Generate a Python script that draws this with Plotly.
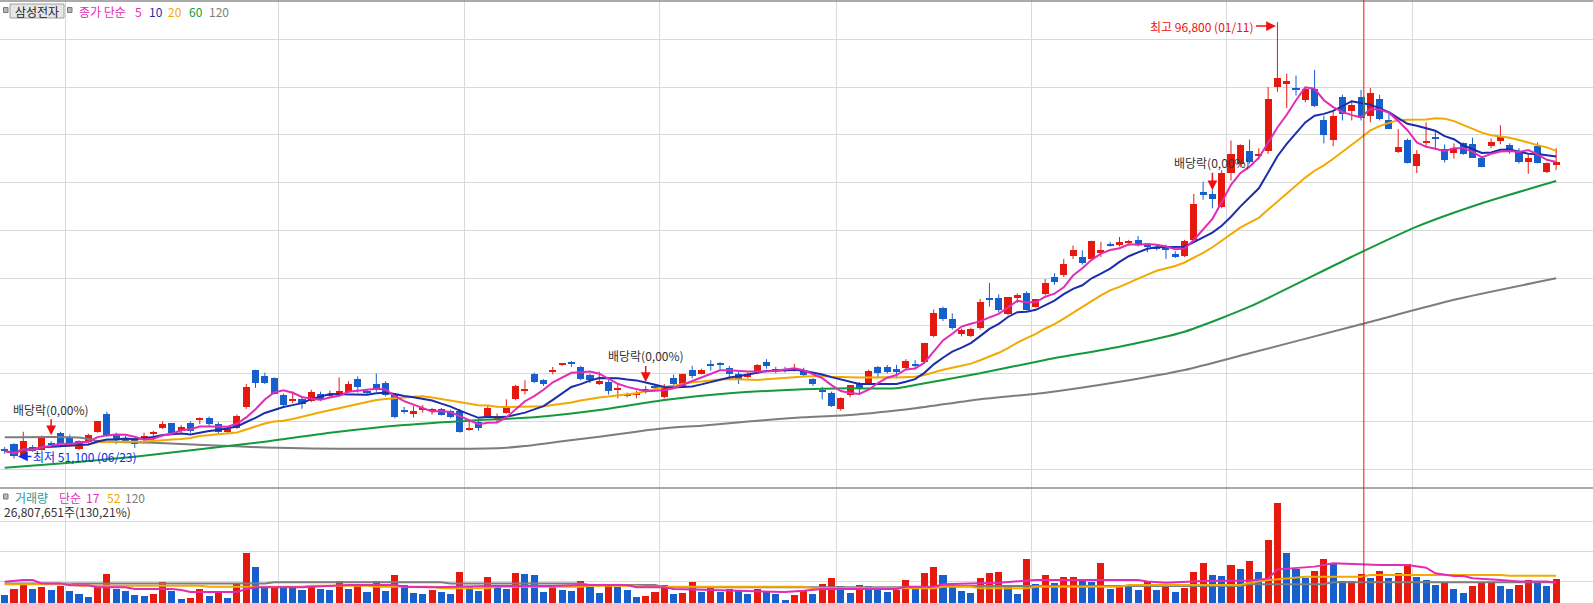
import plotly.graph_objects as go
import pandas as pd

W, H = 1593, 603

# ---------------- data ----------------
month_days = {
    "2020-06": [22, 23, 24, 25, 26, 29, 30],
    "2020-07": [1, 2, 3, 6, 7, 8, 9, 10, 13, 14, 15, 16, 17, 20, 21, 22, 23, 24, 27, 28, 29, 30, 31],
    "2020-08": [3, 4, 5, 6, 7, 10, 11, 12, 13, 14, 18, 19, 20, 21, 24, 25, 26, 27, 28, 31],
    "2020-09": [1, 2, 3, 4, 7, 8, 9, 10, 11, 14, 15, 16, 17, 18, 21, 22, 23, 24, 25, 28, 29],
    "2020-10": [5, 6, 7, 8, 12, 13, 14, 15, 16, 19, 20, 21, 22, 23, 26, 27, 28, 29, 30],
    "2020-11": [2, 3, 4, 5, 6, 9, 10, 11, 12, 13, 16, 17, 18, 19, 20, 23, 24, 25, 26, 27, 30],
    "2020-12": [1, 2, 3, 4, 7, 8, 9, 10, 11, 14, 15, 16, 17, 18, 21, 22, 23, 24, 28, 29, 30],
    "2021-01": [4, 5, 6, 7, 8, 11, 12, 13, 14, 15, 18, 19, 20, 21, 22, 25, 26, 27, 28, 29],
    "2021-02": [1, 2, 3, 4, 5, 8, 9, 10, 15, 16, 17, 18, 19, 22, 23, 24],
}
dates = [f"{m}-{d:02d}" for m, days in month_days.items() for d in days]

opens = [52000, 52600, 51300, 52300, 52000, 52700, 53800, 53400, 52100, 52800,
         53900, 55800, 53600, 53200, 53100, 53200, 53700, 54300, 54800, 54000,
         54800, 55200, 55300, 54700, 53900, 54300, 56500, 60400, 59700, 59500,
         57800, 57200, 57300, 57100, 57900, 57600, 57900, 58100, 59400, 58200,
         58900, 59000, 57700, 56200, 55800, 56200, 56100, 56300, 56100, 56100,
         54100, 54900, 55500, 55100, 55900, 57300, 58200, 60000, 59300, 60200,
         60900, 61100, 60700, 59800, 59000, 59100, 58300, 57700, 57800, 58300,
         58600, 57500, 59500, 58600, 60400, 60000, 60900, 61000, 60600, 60000,
         59600, 60200, 61200, 60400, 60400, 60400, 60400, 59400, 58300, 58000,
         56300, 57700, 59000, 58900, 60700, 60700, 60500, 60600, 60900, 61200,
         63900, 66900, 65700, 64100, 63900, 64800, 67900, 67900, 66200, 68000,
         68400, 67000, 68300, 70100, 70300, 72300, 72200, 72000, 72600, 73500,
         73500, 73700, 74000, 73400, 73300, 73300, 72500, 72300, 74000, 79000,
         78800, 77400, 81000, 81900, 83300, 82800, 83300, 90000, 90300, 89800,
         88600, 89800, 86600, 84500, 89000, 87500, 89000, 87000, 88800, 86600,
         83200, 84500, 81700, 84100, 84800, 83500, 83100, 84100, 84000, 82600,
         83800, 84400, 83900, 83300, 82200, 83800, 81100, 81800]
highs = [52300, 52700, 53900, 52500, 53500, 52900, 53900, 53600, 53000, 53700,
         55000, 56000, 53800, 53500, 53300, 53800, 54000, 55000, 54800, 54600,
         55000, 55400, 55500, 54900, 54500, 55700, 58900, 60400, 60100, 59600,
         57900, 58100, 57500, 58300, 58100, 58200, 59600, 59200, 59700, 58400,
         60000, 59200, 57900, 56500, 56600, 56700, 56400, 56400, 56200, 56300,
         55100, 55100, 56700, 55800, 57300, 58800, 59300, 60100, 59400, 60700,
         61000, 61300, 60800, 60000, 60200, 59300, 59000, 58000, 58200, 58700,
         58900, 58900, 59900, 60000, 60800, 60500, 61400, 61200, 60800, 60200,
         60100, 61000, 61500, 60700, 60700, 61000, 60600, 59500, 58600, 58100,
         57500, 58800, 59100, 60400, 60800, 60900, 60900, 61500, 61400, 63200,
         66700, 67000, 66300, 64700, 64800, 67800, 69500, 68300, 68000, 68400,
         68600, 67800, 69900, 70500, 72000, 73400, 72900, 73900, 73800, 73800,
         74300, 74000, 74400, 73600, 73500, 73500, 72800, 74000, 78800, 80100,
         79200, 81300, 84400, 84000, 84500, 83600, 90000, 96800, 91400, 91200,
         90000, 91800, 87000, 87400, 89200, 88600, 89700, 89900, 89200, 87300,
         85600, 84600, 83400, 86300, 85400, 84000, 84100, 84200, 84700, 82700,
         84600, 86000, 84100, 83600, 82900, 84200, 82100, 83600]
lows = [51600, 51100, 51200, 51800, 51900, 52300, 52400, 52300, 52000, 52700,
        53800, 53400, 52600, 52700, 52200, 52900, 52900, 54200, 53700, 53800,
        53800, 54700, 54500, 53700, 53700, 54200, 56300, 58500, 58900, 57800,
        56600, 56900, 56300, 57000, 57100, 57500, 57800, 58000, 58000, 57800,
        58100, 57600, 55300, 55800, 55400, 55900, 55700, 55600, 55300, 53800,
        54000, 54000, 55400, 54900, 55800, 57200, 57800, 59000, 58700, 59900,
        60800, 60700, 59300, 59000, 58800, 57800, 57400, 57500, 57400, 57900,
        58300, 57400, 58800, 58500, 59500, 59900, 60300, 60400, 59600, 58900,
        59500, 60000, 60500, 60000, 60100, 60200, 59600, 58700, 57300, 56500,
        56100, 57500, 57900, 58800, 59500, 60000, 59500, 60400, 60400, 61100,
        63800, 65500, 64600, 63900, 63800, 64600, 67000, 66400, 66100, 67400,
        66600, 66900, 68200, 69300, 70100, 72000, 71400, 71900, 72200, 73300,
        73300, 73400, 73300, 72700, 72900, 72000, 72100, 72200, 73900, 78200,
        77300, 77300, 80200, 81600, 82000, 82400, 83000, 89500, 87800, 89100,
        88400, 87900, 84100, 83800, 86500, 86500, 86500, 86300, 86500, 85600,
        83100, 82000, 81000, 83700, 83400, 82100, 82500, 82900, 82600, 81600,
        83600, 84000, 83000, 82000, 80900, 82000, 81000, 81300]
closes = [51900, 51400, 52900, 51900, 53300, 52600, 52600, 52600, 52900, 53600,
          55000, 53500, 53000, 52800, 52600, 53500, 53900, 54700, 53800, 54400,
          54000, 55300, 54700, 53900, 54200, 55600, 58600, 59000, 59000, 57900,
          56700, 57300, 56800, 58100, 57300, 57900, 58200, 58900, 58600, 58000,
          58300, 57800, 55400, 56000, 56100, 56400, 56200, 55700, 55400, 53900,
          54200, 54300, 56400, 55600, 56500, 58700, 58300, 59100, 58900, 60400,
          61000, 61000, 59400, 59300, 59200, 58200, 58500, 57800, 58000, 58200,
          58500, 58700, 58900, 59900, 59700, 60400, 60800, 60900, 59900, 59400,
          60000, 60900, 60800, 60300, 60300, 60500, 59800, 58900, 58100, 56600,
          57400, 58800, 58400, 60300, 60100, 60200, 60200, 61300, 60800, 63200,
          66300, 65700, 64800, 64600, 64700, 67500, 67800, 66600, 68000, 68200,
          66700, 67800, 69500, 69600, 71500, 72900, 71600, 73900, 72900, 73400,
          73800, 73700, 73600, 73300, 73000, 72900, 72300, 73900, 77800, 78700,
          78300, 81000, 83000, 83900, 82100, 83000, 88800, 91000, 90600, 89700,
          89800, 88000, 85000, 87000, 87200, 88100, 86800, 89400, 86700, 85600,
          83700, 82000, 83000, 84400, 84600, 82400, 83600, 83000, 82600, 81600,
          84200, 84900, 83200, 82100, 82600, 82000, 82000, 82100]
# volume in millions of shares
volumes_m = [13.2, 18.3, 23.1, 18.3, 20.2, 17.4, 20.8, 16.6, 14.1, 11.5,
             20.2, 30.9, 18.5, 16.8, 13.2, 12.4, 14.1, 24.4, 16.8, 9.8,
             10.9, 18.3, 12.4, 16.0, 10.9, 23.1, 48.8, 37.0, 19.5, 20.5,
             20.0, 19.8, 17.4, 21.6, 18.3, 17.4, 25.0, 18.3, 21.6, 15.7,
             25.0, 16.6, 30.0, 21.6, 14.6, 14.1, 17.4, 16.0, 14.1, 32.8,
             20.2, 16.6, 28.4, 21.6, 18.3, 31.7, 30.9, 30.0, 15.7, 20.2,
             17.4, 16.6, 25.0, 20.2, 14.9, 21.6, 20.2, 17.4, 11.5, 12.4,
             15.7, 21.6, 14.1, 14.9, 24.2, 15.7, 20.2, 15.7, 18.3, 16.6,
             14.1, 18.3, 16.6, 14.1, 9.0, 13.2, 17.3, 14.1, 22.9, 27.2,
             20.9, 14.9, 21.8, 20.9, 17.3, 15.7, 17.3, 26.0, 18.8, 31.7,
             36.8, 30.0, 21.8, 16.6, 14.9, 27.2, 31.7, 32.6, 20.2, 14.1,
             43.5, 22.9, 30.0, 23.5, 28.4, 28.6, 25.0, 24.2, 40.1, 18.3,
             21.8, 20.9, 17.4, 24.2, 17.4, 20.9, 15.7, 19.1, 32.6, 40.1,
             30.0, 29.2, 38.5, 35.1, 41.8, 32.6, 59.5, 90.7, 48.6, 35.1,
             27.2, 33.4, 43.5, 39.3, 25.0, 25.2, 30.9, 27.5, 33.4, 27.2,
             31.7, 39.3, 28.4, 26.0, 21.8, 23.5, 18.3, 14.9, 20.9, 23.5,
             24.2, 20.9, 18.3, 21.8, 26.0, 24.2, 20.6, 26.8]

# long moving averages (index, value)
ma60_idx = [0, 7, 14, 21, 28, 35, 43, 50, 57, 64, 71, 78, 86, 91, 96, 98, 105, 112, 120, 127, 134, 145, 152, 159, 167]
ma60_val = [50140, 50660, 51290, 52060, 52860, 53800, 54610, 55060, 55410, 56180, 57230, 57930, 58350, 58450, 58450,
            58800, 60020, 61420, 62810, 64380, 67000, 72230, 75380, 77830, 80160]
ma120_idx = [0, 8, 10, 16, 22, 28, 33, 53, 56, 60, 64, 68, 71, 75, 78, 82, 86, 91, 98, 105, 112, 120, 127, 134, 146, 156, 167]
ma120_val = [53320, 53300, 52930, 52750, 52500, 52250, 52150, 52170, 52400, 52900, 53380, 53910, 54260, 54535, 54790,
             55130, 55415, 55655, 56360, 57300, 57990, 59140, 60370, 62120, 65155, 67720, 69970]
vma17_idx = [0, 2, 3, 4, 6, 7, 9, 10, 13, 14, 18, 19, 20, 25, 26, 27, 32, 33, 37, 42, 43, 46, 52, 59, 62, 67, 68, 71, 72,
             79, 84, 86, 88, 96, 97, 100, 101, 107, 111, 122, 123, 125, 129, 134, 136, 137, 139, 141, 143, 145, 148,
             151, 153, 154, 156, 157, 158, 161, 163, 166, 167]
vma17_val = [24.4, 25.8, 25.8, 23.0, 23.0, 21.4, 21.4, 19.7, 19.7, 18.3, 18.3, 17.4, 15.7, 15.7, 18.3, 19.7, 19.7, 20.2,
             21.6, 21.6, 20.2, 19.7, 20.8, 20.8, 21.6, 21.6, 19.7, 19.7, 18.3, 16.8, 15.7, 16.8, 18.3, 18.3, 20.2, 20.2,
             22.2, 23.6, 25.8, 25.8, 24.5, 23.6, 25.0, 25.5, 27.0, 34.8, 36.2, 37.1, 39.9, 39.3, 38.5, 38.5, 36.2, 31.5,
             29.2, 29.2, 27.3, 25.8, 24.5, 24.5, 23.6]
vma52_idx = [0, 7, 8, 21, 22, 32, 33, 39, 40, 46, 47, 52, 53, 62, 63, 68, 69, 86, 87, 100, 101, 104, 105, 110, 111, 120,
             121, 133, 134, 136, 138, 140, 146, 147, 161, 162, 167]
vma52_val = [22.2, 22.2, 21.0, 21.0, 20.2, 20.2, 21.0, 21.0, 20.2, 20.2, 18.8, 18.8, 20.2, 20.2, 21.0, 21.0, 20.2, 20.2,
             18.8, 18.8, 20.2, 20.2, 18.8, 18.8, 20.2, 20.2, 21.6, 21.6, 23.6, 25.8, 27.2, 28.6, 28.6, 30.0, 30.0, 29.5,
             29.5]
vma120_idx = [0, 28, 29, 47, 48, 62, 63, 70, 71, 100, 101, 133, 134, 142, 143, 167]
vma120_val = [23.0, 23.0, 24.0, 24.0, 23.0, 23.0, 21.6, 21.6, 19.7, 19.7, 20.8, 20.8, 22.2, 22.2, 23.9, 23.9]

dividend_idx = [5, 69, 130]
high_idx, low_idx, cursor_idx = 137, 1, 146

# ---------------- styles ----------------
RED = "#E6190F"
BLUE = "#165FCD"
C_MA5, C_MA10, C_MA20, C_MA60, C_MA120 = "#E22CB6", "#1B2DAA", "#F2A900", "#15993D", "#7D7D7D"
GRID = "#D9D9D9"
FONT = "Noto Sans CJK KR"

idx = list(range(len(dates)))
ma5 = pd.Series(closes).rolling(5, min_periods=1).mean()
ma10 = pd.Series(closes).rolling(10, min_periods=1).mean()
ma20 = pd.Series(closes).rolling(20, min_periods=1).mean()

up = [c >= o for o, c in zip(opens, closes)]
candle_colors = [RED if u else BLUE for u in up]
body_base = [min(o, c) for o, c in zip(opens, closes)]
body_h = [max(abs(c - o), 110) for o, c in zip(opens, closes)]
vol_colors = [BLUE] + [RED if volumes_m[k] > volumes_m[k - 1] else BLUE for k in range(1, len(volumes_m))]

month_ticks = [k - 0.5 for k in range(1, len(dates)) if dates[k][:7] != dates[k - 1][:7]]


def wick_xy(flag):
    xs, ys = [], []
    for k in idx:
        if up[k] == flag:
            xs += [k, k, None]
            ys += [lows[k], highs[k], None]
    return xs, ys


fig = go.Figure()
for flag, col in [(True, RED), (False, BLUE)]:
    wx, wy = wick_xy(flag)
    fig.add_trace(go.Scatter(x=wx, y=wy, mode="lines", line=dict(color=col, width=1), xaxis="x", yaxis="y",
                             hoverinfo="skip"))
fig.add_trace(go.Bar(x=idx, y=body_h, base=body_base, width=0.76, marker=dict(color=candle_colors, line=dict(width=0)),
                     xaxis="x", yaxis="y"))

smooth = dict(shape="spline", smoothing=0.6)
fig.add_trace(go.Scatter(x=ma120_idx, y=ma120_val, mode="lines", line=dict(color=C_MA120, width=2, **smooth),
                         xaxis="x", yaxis="y"))
fig.add_trace(go.Scatter(x=ma60_idx, y=ma60_val, mode="lines", line=dict(color=C_MA60, width=2, **smooth),
                         xaxis="x", yaxis="y"))
fig.add_trace(go.Scatter(x=idx, y=ma20, mode="lines", line=dict(color=C_MA20, width=2), xaxis="x", yaxis="y"))
fig.add_trace(go.Scatter(x=idx, y=ma10, mode="lines", line=dict(color=C_MA10, width=2), xaxis="x", yaxis="y"))
fig.add_trace(go.Scatter(x=idx, y=ma5, mode="lines", line=dict(color=C_MA5, width=2), xaxis="x", yaxis="y"))

fig.add_trace(go.Bar(x=idx, y=volumes_m, width=0.76, marker=dict(color=vol_colors, line=dict(width=0)),
                     xaxis="x2", yaxis="y2"))
fig.add_trace(go.Scatter(x=vma120_idx, y=vma120_val, mode="lines", line=dict(color=C_MA120, width=2), xaxis="x2", yaxis="y2"))
fig.add_trace(go.Scatter(x=vma52_idx, y=vma52_val, mode="lines", line=dict(color=C_MA20, width=2), xaxis="x2", yaxis="y2"))
fig.add_trace(go.Scatter(x=vma17_idx, y=vma17_val, mode="lines", line=dict(color=C_MA5, width=2), xaxis="x2", yaxis="y2"))

SPLIT = 488
dom = 1 - SPLIT / H
xr = [-4.7 / 9.29, (W - 4.7) / 9.29]

xcommon = dict(range=xr, showticklabels=False, ticks="", tickvals=month_ticks, showgrid=True, gridcolor=GRID,
               gridwidth=1, zeroline=False, showline=False, fixedrange=True)


def px(x):
    return x / W


def py(y):
    return 1 - y / H


fig.update_layout(
    width=W, height=H, margin=dict(l=0, r=0, t=0, b=0), showlegend=False,
    plot_bgcolor="white", paper_bgcolor="white", bargap=0, barmode="overlay",
    font=dict(family=FONT, size=12),
    xaxis=dict(domain=[0, 1], anchor="y", **xcommon),
    xaxis2=dict(domain=[0, 1], anchor="y2", matches="x", **xcommon),
    yaxis=dict(domain=[dom, 1], range=[48010, 99116], dtick=5000, tick0=0, showgrid=True, gridcolor=GRID,
               showticklabels=False, ticks="", zeroline=False, showline=False),
    yaxis2=dict(domain=[0, dom], range=[6.48, 103.3], tickvals=[25, 50, 75], showgrid=True, gridcolor=GRID,
                showticklabels=False, ticks="", zeroline=False, showline=False),
)

shapes = [
    dict(type="line", xref="paper", yref="paper", x0=0, x1=1, y0=py(1), y1=py(1), line=dict(color="#8E8E8E", width=1.5)),
    dict(type="line", xref="paper", yref="paper", x0=0, x1=1, y0=py(SPLIT), y1=py(SPLIT),
         line=dict(color="#8E8E8E", width=1.5)),
    dict(type="line", xref="x", yref="paper", x0=cursor_idx + 0.3, x1=cursor_idx + 0.3, y0=0, y1=1,
         line=dict(color="#F01010", width=1)),
    dict(type="line", xref="x", yref="y", x0=cursor_idx + 0.3, x1=cursor_idx + 0.3, y0=closes[cursor_idx],
         y1=opens[cursor_idx], line=dict(color="#20A040", width=1.5)),
    dict(type="rect", xref="paper", yref="paper", x0=px(10), x1=px(64), y0=py(4), y1=py(18),
         fillcolor="#E6E6E6", line=dict(color="#A0A0A0", width=1)),
]
for (x0, y0) in [(3.5, 7.5), (67.5, 7.5), (3.5, 494)]:
    shapes.append(dict(type="rect", xref="paper", yref="paper", x0=px(x0), x1=px(x0 + 4.5), y0=py(y0), y1=py(y0 + 5),
                       fillcolor="#B8B8B8", line=dict(color="#7A7A7A", width=1)))
fig.update_layout(shapes=shapes)

ann = []


def label(text, x, y, color, anchor="left", size=12):
    ann.append(dict(text=text, x=px(x), y=py(y), xref="paper", yref="paper", xanchor=anchor, yanchor="middle",
                    showarrow=False, font=dict(color=color, size=size, family=FONT)))


label("삼성전자", 37, 11, "#1E1E1E", anchor="center")
label("종가 단순", 77, 11, C_MA5)
label("5", 133, 11, C_MA5)
label("10", 147, 11, C_MA10)
label("20", 166, 11, C_MA20)
label("60", 187, 11, C_MA60)
label("120", 207, 11, C_MA120)
label("거래량", 13, 497, "#2A9A9A")
label("단순", 57, 497, C_MA5)
label("17", 84, 497, C_MA5)
label("52", 105, 497, C_MA20)
label("120", 123, 497, C_MA120)
label("26,807,651주(130,21%)", 2, 511, "#333333")

for k, ay, so in zip(dividend_idx, [-32, -30, -27.5], [6, 4, 0]):
    ann.append(dict(text="배당락(0,00%)", x=k, y=highs[k], xref="x", yref="y", showarrow=True, arrowhead=2,
                    arrowsize=1.3, arrowwidth=1.5, arrowcolor="#F01010", ax=0, ay=ay, standoff=so,
                    font=dict(color="#333333", size=12, family=FONT)))

ann.append(dict(text="최고 96,800 (01/11)", x=high_idx, y=highs[high_idx], xref="x", yref="y", showarrow=True,
                arrowhead=2, arrowsize=1.3, arrowwidth=1.5, arrowcolor="#F01010", ax=-75, ay=0, yshift=-4,
                standoff=1.5, font=dict(color="#F01010", size=12, family=FONT)))
ann.append(dict(text="최저 51,100 (06/23)", x=low_idx, y=lows[low_idx], xref="x", yref="y", showarrow=True,
                arrowhead=2, arrowsize=1.3, arrowwidth=1.5, arrowcolor="#1030E0", ax=71, ay=0, yshift=2,
                standoff=4, font=dict(color="#1030E0", size=12, family=FONT)))
fig.update_layout(annotations=ann)

fig.write_html("out.html")
